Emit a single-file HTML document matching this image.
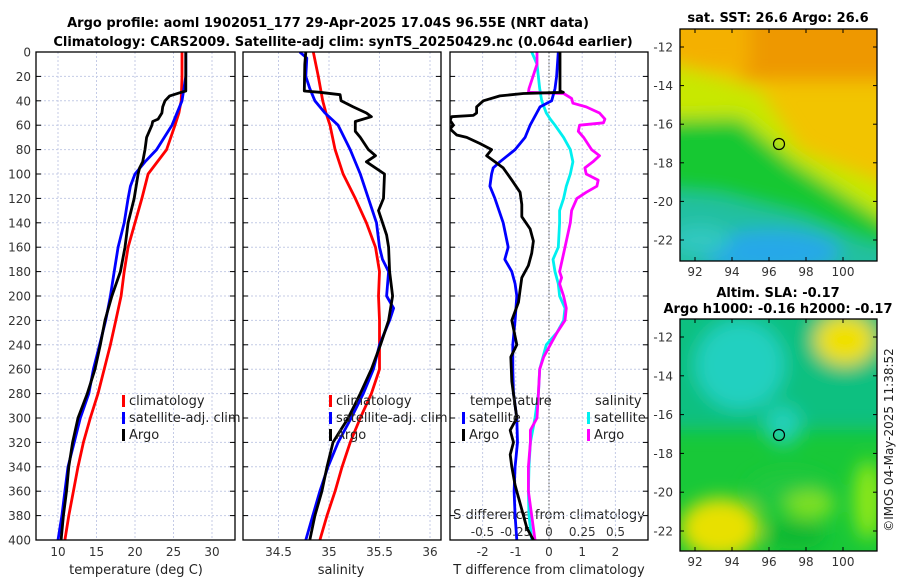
<!DOCTYPE html>
<html><head><meta charset="utf-8">
<style>
body{margin:0;background:#fff;}
svg{display:block;font-family:"DejaVu Sans","Liberation Sans",sans-serif;}
.tk{font-size:12px;fill:#333;}
.ttl{font-size:13px;font-weight:bold;fill:#000;}
.lab{font-size:13px;fill:#222;}
</style></head><body>
<svg id="fig" width="900" height="580" viewBox="0 0 900 580">
<defs>
<filter id="bl" x="-20%" y="-20%" width="140%" height="140%"><feGaussianBlur stdDeviation="9"/></filter>
<filter id="bl2" x="-20%" y="-20%" width="140%" height="140%"><feGaussianBlur stdDeviation="6"/></filter>
<clipPath id="c1"><rect x="36" y="52" width="199" height="488"/></clipPath>
<clipPath id="c2"><rect x="243" y="52" width="198" height="488"/></clipPath>
<clipPath id="c3"><rect x="450" y="52" width="198" height="488"/></clipPath>
<clipPath id="m1"><rect x="680" y="29" width="197" height="232"/></clipPath>
<clipPath id="m2"><rect x="680" y="319" width="197" height="232"/></clipPath>
</defs>
<text class="ttl" x="328" y="27" text-anchor="middle">Argo profile: aoml 1902051_177 29-Apr-2025 17.04S 96.55E (NRT data)</text>
<text class="ttl" x="343" y="46" text-anchor="middle">Climatology: CARS2009. Satellite-adj clim: synTS_20250429.nc (0.064d earlier)</text>

<!-- SST map -->
<g clip-path="url(#m1)">
<rect x="680" y="29" width="197" height="232" fill="#f2c400"/>
<g filter="url(#bl)">
<rect x="740" y="10" width="160" height="70" fill="#ee9800"/>
<rect x="660" y="10" width="90" height="60" fill="#f4b000"/>
<polygon points="660,60 760,90 800,150 900,190 900,290 660,290" fill="#c8e800"/>
<polygon points="660,120 740,118 790,160 860,205 900,230 900,290 660,290" fill="#18c830"/>
<polygon points="660,190 720,195 800,215 860,240 900,250 900,290 660,290" fill="#20c0a0"/>
<ellipse cx="770" cy="252" rx="70" ry="22" fill="#28a8e8"/>
<ellipse cx="700" cy="240" rx="30" ry="15" fill="#30c8c0"/>
</g>
<circle cx="779" cy="144" r="5.5" fill="none" stroke="#000" stroke-width="1.2"/>
</g>
<rect x="680" y="29" width="197" height="232" fill="none" stroke="#000" stroke-width="1.3"/>
<text class="ttl" x="778" y="22" text-anchor="middle">sat. SST: 26.6 Argo: 26.6</text>

<!-- SLA map -->
<g clip-path="url(#m2)">
<rect x="680" y="319" width="197" height="232" fill="#18c838"/>
<g filter="url(#bl)">
<rect x="650" y="300" width="260" height="130" fill="#10c080"/>
<ellipse cx="740" cy="365" rx="45" ry="45" fill="#20d0c0"/>
<ellipse cx="783" cy="425" rx="18" ry="20" fill="#20d0b8"/>
<ellipse cx="845" cy="340" rx="30" ry="25" fill="#f0e000"/>
<ellipse cx="720" cy="528" rx="40" ry="30" fill="#e8e000"/>
<ellipse cx="790" cy="490" rx="40" ry="18" fill="#20c840"/>
<ellipse cx="810" cy="505" rx="25" ry="14" fill="#80e020"/>
<ellipse cx="868" cy="500" rx="14" ry="40" fill="#90e818"/>
<ellipse cx="795" cy="535" rx="30" ry="14" fill="#10b830"/>
</g>
<circle cx="779" cy="435" r="5.5" fill="none" stroke="#000" stroke-width="1.2"/>
</g>
<rect x="680" y="319" width="197" height="232" fill="none" stroke="#000" stroke-width="1.3"/>
<text class="ttl" x="778" y="297" text-anchor="middle">Altim. SLA: -0.17</text>
<text class="ttl" x="778" y="313" text-anchor="middle">Argo h1000: -0.16 h2000: -0.17</text>
<text class="lab" transform="translate(893,440) rotate(-90)" text-anchor="middle" style="font-size:12px">©IMOS 04-May-2025 11:38:52</text>

<!-- panel 3 extra labels -->
<text class="lab" x="549" y="519" text-anchor="middle">S difference from climatology</text>
<text class="lab" x="549" y="574" text-anchor="middle">T difference from climatology</text>
<text class="lab" x="136" y="574" text-anchor="middle">temperature (deg C)</text>
<text class="lab" x="341" y="574" text-anchor="middle">salinity</text>
</svg>
<script>
// ---- data ----
const depthTicks=[0,20,40,60,80,100,120,140,160,180,200,220,240,260,280,300,320,340,360,380,400];
const tempTicks=[10,15,20,25,30];
const salTicks=[34.5,35,35.5,36];
const tdiffTicks=[-2,-1,0,1,2];
const sdiffTicks=[-0.5,-0.25,0,0.25,0.5];
const latTicks=[-12,-14,-16,-18,-20,-22];
const lonTicks=[92,94,96,98,100];

const climDepth=[0,20,40,50,60,80,100,120,140,160,180,200,220,240,260,280,300,320,340,360,380,400];
const climTemp=[26.1,26.1,26.0,25.7,25.2,24.1,21.7,20.9,20.0,19.1,18.6,18.2,17.5,16.8,16.0,15.2,14.2,13.3,12.6,12.0,11.4,10.9];
const climSal=[34.845,34.894,34.938,34.97,35.01,35.06,35.14,35.26,35.37,35.46,35.50,35.49,35.50,35.50,35.50,35.42,35.31,35.21,35.13,35.06,34.98,34.91];

const satTDepth=[0,20,40,60,80,90,100,110,120,140,160,180,200,220,240,260,280,300,320,340,360,380,400];
const satTemp=[26.6,26.6,26.1,24.8,22.8,21.3,20.0,19.4,19.1,18.6,17.8,17.3,16.8,16.2,15.4,14.6,14.0,12.9,12.1,11.3,10.9,10.5,10.0];

const argoTDepth=[0,32,33,36,40,45,50,55,57,60,70,80,90,95,100,120,140,160,180,200,220,240,260,280,300,320,340,360,380,400];
const argoTemp=[26.6,26.6,26.0,24.5,23.9,23.6,23.5,23.0,22.3,22.2,21.5,21.3,21.0,20.6,20.4,19.9,19.1,18.7,18.1,17.0,16.1,15.5,14.8,13.8,12.6,11.9,11.4,11.1,10.7,10.4];

const satSDepth=[0,5,20,30,40,50,60,80,100,120,140,160,170,180,200,210,220,240,260,280,300,320,340,360,380,400];
const satSal=[34.71,34.78,34.77,34.81,34.86,34.96,35.09,35.21,35.31,35.39,35.47,35.50,35.53,35.59,35.57,35.64,35.60,35.50,35.44,35.34,35.22,35.09,34.99,34.91,34.84,34.77];

const argoSDepth=[0,10,32,33,35,40,45,50,53,57,65,70,80,85,90,100,120,130,150,160,180,200,220,240,260,280,300,320,340,360,380,400];
const argoSal=[34.77,34.76,34.755,34.91,35.11,35.12,35.24,35.37,35.42,35.26,35.26,35.31,35.39,35.46,35.37,35.55,35.54,35.49,35.57,35.59,35.60,35.63,35.59,35.51,35.42,35.31,35.19,35.04,34.98,34.93,34.86,34.81];

const dSatTDepth=[0,20,30,40,45,50,60,70,80,90,95,100,110,120,140,160,170,180,190,200,220,240,260,280,300,320,340,360,380,400];
const dSatT=[0.28,0.23,0.18,0.08,-0.27,-0.37,-0.57,-0.72,-1.02,-1.48,-1.68,-1.73,-1.78,-1.63,-1.38,-1.23,-1.33,-1.12,-1.02,-0.97,-1.02,-1.09,-1.09,-1.07,-0.97,-0.95,-1.02,-1.05,-1.02,-0.97];

const dArgoTDepth=[0,32,33,34,36,40,45,50,52,53,56,60,63,68,70,75,80,85,90,95,105,115,125,135,145,155,165,175,185,195,205,220,240,250,270,300,310,320,330,340,355,370,390,400];
const dArgoT=[0.33,0.33,0.43,-0.77,-1.48,-1.98,-2.18,-2.18,-2.28,-2.93,-2.98,-2.88,-2.98,-2.78,-2.48,-2.08,-1.73,-1.88,-1.63,-1.38,-1.12,-0.87,-0.82,-0.82,-0.57,-0.47,-0.52,-0.62,-0.82,-0.87,-0.92,-1.12,-0.97,-1.15,-1.12,-0.97,-1.17,-1.07,-1.17,-1.12,-1.02,-0.87,-0.67,-0.47];

const dSatSDepth=[0,10,30,40,50,55,60,70,80,90,100,110,120,130,140,160,170,180,190,200,210,220,230,240,260,280,300,320,340,360,380,400];
const dSatS=[-0.13,-0.09,-0.07,-0.055,-0.02,0.01,0.045,0.11,0.16,0.18,0.16,0.13,0.11,0.08,0.08,0.07,0.03,0.045,0.07,0.08,0.12,0.11,0.06,-0.02,-0.07,-0.08,-0.105,-0.14,-0.15,-0.155,-0.15,-0.13];

const dArgoSDepth=[0,10,20,30,33,34,38,42,45,50,55,58,60,65,70,80,85,90,95,100,105,110,115,120,130,140,160,180,185,190,200,210,220,230,240,250,260,280,300,310,320,340,360,380,400];
const dArgoS=[-0.09,-0.09,-0.12,-0.15,-0.155,0.11,0.17,0.18,0.28,0.38,0.42,0.41,0.23,0.22,0.26,0.32,0.38,0.33,0.27,0.28,0.37,0.36,0.28,0.21,0.17,0.16,0.12,0.08,0.095,0.08,0.11,0.13,0.12,0.06,0.01,-0.04,-0.07,-0.08,-0.09,-0.14,-0.14,-0.155,-0.155,-0.13,-0.105];

// ---- axes ----
const NS='http://www.w3.org/2000/svg';
const svg=document.getElementById('fig');
const Y=d=>52+d*1.22;
const xT=v=>58+(v-10)*7.7;
const xS=v=>278.5+(v-34.5)*101;
const xDT=v=>549+v*33.2;
const xDS=v=>549+v*133;
const P=[{x0:36,x1:235,clip:'c1'},{x0:243,x1:441,clip:'c2'},{x0:450,x1:648,clip:'c3'}];
function mk(tag,at,parent){const e=document.createElementNS(NS,tag);for(const k in at)e.setAttribute(k,at[k]);(parent||svg).appendChild(e);return e;}
function txt(s,x,y,anchor,cls,parent){const t=mk('text',{x:x,y:y,'text-anchor':anchor,class:cls},parent);t.textContent=s;return t;}

P.forEach((p,i)=>{
  const g=mk('g',{});
  
  
  depthTicks.forEach(d=>{
    const l=mk('line',{x1:p.x0,x2:p.x1,y1:Y(d),y2:Y(d),stroke:'#c4cbe6','stroke-width':1,'stroke-dasharray':'2,2'},g);
    
    
    mk('line',{x1:p.x0,x2:p.x0+5,y1:Y(d),y2:Y(d),stroke:'#000','stroke-width':1},g);
    mk('line',{x1:p.x1-5,x2:p.x1,y1:Y(d),y2:Y(d),stroke:'#000','stroke-width':1},g);
    if(i===0){const t=txt(String(d),31,Y(d)+4.5,'end','tk',g);
      
      }
  });
});
function vgrid(ticks,fx,labY,fmt){
  ticks.forEach(v=>{
    const x=fx(v);
    const l=mk('line',{x1:x,x2:x,y1:52,y2:540,stroke:'#c4cbe6','stroke-width':1,'stroke-dasharray':'2,2'});
    
    
    if(labY){const t=txt(fmt?fmt(v):String(v),x,labY,'middle','tk');
      
      }
  });
}
vgrid(tempTicks,xT,556);
vgrid(salTicks,xS,556);
vgrid(tdiffTicks,xDT,556);
sdiffTicks.forEach(v=>{const t=txt(String(v),xDS(v),536,'middle','tk');
  
  });
const zl=mk('line',{x1:549,x2:549,y1:52,y2:540,stroke:'#555','stroke-width':1,'stroke-dasharray':'1.5,2'});



function series(xs,ds,fx,color,clip,name){
  let d='';xs.forEach((v,k)=>{d+=(k?'L':'M')+fx(v).toFixed(1)+','+Y(ds[k]).toFixed(1);});
  const p=mk('path',{d:d,fill:'none',stroke:color,'stroke-width':2.8,'stroke-linejoin':'round','clip-path':'url(#'+clip+')'});
  
  
}
series(climTemp,climDepth,xT,'#ff0000','c1','climatology-temperature-line');
series(satTemp,satTDepth,xT,'#0000ff','c1','satellite-temperature-line');
series(argoTemp,argoTDepth,xT,'#000000','c1','argo-temperature-line');
series(climSal,climDepth,xS,'#ff0000','c2','climatology-salinity-line');
series(satSal,satSDepth,xS,'#0000ff','c2','satellite-salinity-line');
series(argoSal,argoSDepth,xS,'#000000','c2','argo-salinity-line');
series(dSatS,dSatSDepth,xDS,'#00f0f0','c3','satellite-s-diff-line');
series(dArgoS,dArgoSDepth,xDS,'#ff00ff','c3','argo-s-diff-line');
series(dSatT,dSatTDepth,xDT,'#0000ff','c3','satellite-t-diff-line');
series(dArgoT,dArgoTDepth,xDT,'#000000','c3','argo-t-diff-line');

P.forEach(p=>{mk('rect',{x:p.x0,y:52,width:p.x1-p.x0,height:488,fill:'none',stroke:'#000','stroke-width':1.3});});

function legend(items,x,y0){
  items.forEach((it,k)=>{
    const y=y0+k*17;
    const g=mk('g',{});
    
    
    if(it[1])mk('rect',{x:x,y:y-10,width:3,height:12,fill:it[1]},g);
    txt(it[0],x+(it[1]?7:0),y,'start','lab',g);
  });
}
legend([['climatology','#ff0000'],['satellite-adj. clim','#0000ff'],['Argo','#000']],122,405);
legend([['climatology','#ff0000'],['satellite-adj. clim','#0000ff'],['Argo','#000']],329,405);
legend([['temperature',null]],470,405);
legend([['satellite','#0000ff'],['Argo','#000']],462,422);
legend([['salinity',null]],595,405);
legend([['satellite','#00f0f0'],['Argo','#ff00ff']],587,422);

// map axes
const lonX=v=>695+(v-92)*18.5;
[[47,19.3,29,261],[337,19.4,319,551]].forEach((m,i)=>{
  latTicks.forEach(v=>{
    const y=m[0]+(-12-v)*m[1];
    mk('line',{x1:680,x2:684,y1:y,y2:y,stroke:'#000'});
    mk('line',{x1:873,x2:877,y1:y,y2:y,stroke:'#000'});
    const t=txt(String(v),673,y+4.5,'end','tk');
    
    
  });
  lonTicks.forEach(v=>{
    const x=lonX(v);
    mk('line',{x1:x,x2:x,y1:m[3]-4,y2:m[3],stroke:'#000'});
    mk('line',{x1:x,x2:x,y1:m[2],y2:m[2]+4,stroke:'#000'});
    const t=txt(String(v),x,m[3]+15,'middle','tk');
    
    
  });
});
</script>
</body></html>
